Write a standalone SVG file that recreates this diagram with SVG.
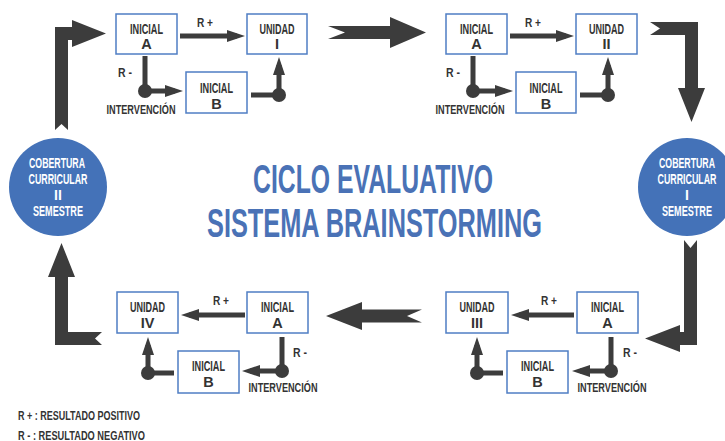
<svg xmlns="http://www.w3.org/2000/svg" width="725" height="441" viewBox="0 0 725 441">
<style>
.bx{fill:#fff;stroke:#4f7ec4;stroke-width:1.5}
.t{font-family:"Liberation Sans Narrow","Liberation Sans",Arial,sans-serif;font-weight:bold;fill:#333;text-anchor:middle}
.bt{font-size:14.5px}
.lb{font-size:12.5px}
.iv{font-size:13.5px}
.ct{font-family:"Liberation Sans Narrow","Liberation Sans",Arial,sans-serif;font-weight:bold;fill:#fff;text-anchor:middle;font-size:14px}
.ttl{font-family:"Liberation Sans Narrow","Liberation Sans",Arial,sans-serif;font-weight:bold;fill:#4a72b6;text-anchor:middle;font-size:40px}
.cn{fill:none;stroke:#3c3c3c;stroke-width:5;marker-end:url(#ah)}
.dot{fill:#3c3c3c}
.big{fill:#3c3c3c}
.circ{fill:#4472b8}
</style>
<defs>
<marker id="ah" markerUnits="userSpaceOnUse" markerWidth="18" markerHeight="12" refX="10" refY="6" orient="auto">
<path d="M0,0 L18,6 L0,12 z" fill="#3c3c3c"/>
</marker>
</defs>
<rect width="725" height="441" fill="#fff"/>

<!-- big cycle arrows -->
<g id="cycle-arrows">
<polygon class="big" points="55,130 55,27 72,27 72,20 106,33.5 72,47 72,40 68,40 68,130 61.5,124"/>
<polygon class="big" points="328,26 390,26 390,17 426,32.5 390,48 390,39 328,39 345,32.5"/>
<polygon class="big" points="650,22 698,22 698,88 705,88 691.5,122 678,88 685,88 685,35 650,35 660,28.5"/>
<polygon class="big" points="684,240 690.5,248 697,240 697,345 680,345 680,352 645,338.5 680,325 680,332 684,332"/>
<polygon class="big" points="326,316 362,302 362,309.5 422,309.5 407,316 422,322.5 362,322.5 362,330"/>
<polygon class="big" points="102,332 68,332 68,277 75,277 61.5,243 48,277 55,277 55,345 102,345 95,338.5"/>
</g>

<!-- connectors -->
<g id="connectors">
<path class="cn" d="M180,36 H237"/>
<path class="cn" d="M145,56 V91 H175"/>
<path class="cn" d="M251,95 H279 V65"/>
<path class="cn" d="M510,36 H566"/>
<path class="cn" d="M473,56 V91 H505"/>
<path class="cn" d="M580,95 H608 V65"/>
<path class="cn" d="M574,315 H519"/>
<path class="cn" d="M611,337 V371 H580"/>
<path class="cn" d="M503,373 H477 V345"/>
<path class="cn" d="M245,315 H189"/>
<path class="cn" d="M282,337 V371 H250"/>
<path class="cn" d="M174,373 H148 V345"/>
<circle class="dot" cx="145" cy="91" r="7"/>
<circle class="dot" cx="279" cy="95" r="7"/>
<circle class="dot" cx="473" cy="91" r="7"/>
<circle class="dot" cx="608" cy="95" r="7"/>
<circle class="dot" cx="611" cy="371" r="7"/>
<circle class="dot" cx="477" cy="373" r="7"/>
<circle class="dot" cx="282" cy="371" r="7"/>
<circle class="dot" cx="148" cy="373" r="7"/>
<text class="t lb" x="205" y="27" textLength="16" lengthAdjust="spacingAndGlyphs">R +</text>
<text class="t lb" x="125" y="77" textLength="14" lengthAdjust="spacingAndGlyphs">R -</text>
<text class="t iv" x="141" y="114" textLength="69" lengthAdjust="spacingAndGlyphs">INTERVENCIÓN</text>
<text class="t lb" x="533" y="27" textLength="16" lengthAdjust="spacingAndGlyphs">R +</text>
<text class="t lb" x="453" y="77" textLength="14" lengthAdjust="spacingAndGlyphs">R -</text>
<text class="t iv" x="470" y="114" textLength="69" lengthAdjust="spacingAndGlyphs">INTERVENCIÓN</text>
<text class="t lb" x="549" y="305" textLength="16" lengthAdjust="spacingAndGlyphs">R +</text>
<text class="t lb" x="630" y="357" textLength="14" lengthAdjust="spacingAndGlyphs">R -</text>
<text class="t iv" x="612" y="392" textLength="69" lengthAdjust="spacingAndGlyphs">INTERVENCIÓN</text>
<text class="t lb" x="221" y="305" textLength="16" lengthAdjust="spacingAndGlyphs">R +</text>
<text class="t lb" x="300" y="357" textLength="14" lengthAdjust="spacingAndGlyphs">R -</text>
<text class="t iv" x="283" y="392" textLength="69" lengthAdjust="spacingAndGlyphs">INTERVENCIÓN</text>
</g>

<!-- top-left block -->
<g id="tl-inicial-a"><rect class="bx" x="116" y="14" width="61" height="40"/>
<text class="t bt" x="146.5" y="33.5" textLength="33" lengthAdjust="spacingAndGlyphs">INICIAL</text><text class="t bt" x="146.5" y="49">A</text></g>
<g id="unidad-i"><rect class="bx" x="247" y="14" width="60" height="40"/>
<text class="t bt" x="277" y="33.5" textLength="35" lengthAdjust="spacingAndGlyphs">UNIDAD</text><text class="t bt" x="277" y="49">I</text></g>
<g id="tl-inicial-b"><rect class="bx" x="186" y="72" width="61" height="41"/>
<text class="t bt" x="216.5" y="93" textLength="33" lengthAdjust="spacingAndGlyphs">INICIAL</text><text class="t bt" x="216.5" y="108.5">B</text></g>

<!-- top-right block -->
<g id="tr-inicial-a"><rect class="bx" x="446" y="14" width="61" height="40"/>
<text class="t bt" x="476.5" y="33.5" textLength="33" lengthAdjust="spacingAndGlyphs">INICIAL</text><text class="t bt" x="476.5" y="49">A</text></g>
<g id="unidad-ii"><rect class="bx" x="576" y="14" width="61" height="40"/>
<text class="t bt" x="606.5" y="33.5" textLength="35" lengthAdjust="spacingAndGlyphs">UNIDAD</text><text class="t bt" x="606.5" y="49">II</text></g>
<g id="tr-inicial-b"><rect class="bx" x="516" y="72" width="60" height="41"/>
<text class="t bt" x="546" y="93" textLength="33" lengthAdjust="spacingAndGlyphs">INICIAL</text><text class="t bt" x="546" y="108.5">B</text></g>

<!-- bottom-right block -->
<g id="unidad-iii"><rect class="bx" x="446" y="292" width="62" height="41"/>
<text class="t bt" x="477" y="312" textLength="35" lengthAdjust="spacingAndGlyphs">UNIDAD</text><text class="t bt" x="477" y="327.5">III</text></g>
<g id="br-inicial-a"><rect class="bx" x="577" y="292" width="61" height="41"/>
<text class="t bt" x="607.5" y="312" textLength="33" lengthAdjust="spacingAndGlyphs">INICIAL</text><text class="t bt" x="607.5" y="327.5">A</text></g>
<g id="br-inicial-b"><rect class="bx" x="507" y="351" width="61" height="42"/>
<text class="t bt" x="537.5" y="371" textLength="33" lengthAdjust="spacingAndGlyphs">INICIAL</text><text class="t bt" x="537.5" y="386.5">B</text></g>

<!-- bottom-left block -->
<g id="unidad-iv"><rect class="bx" x="117" y="292" width="61" height="41"/>
<text class="t bt" x="147.5" y="312" textLength="35" lengthAdjust="spacingAndGlyphs">UNIDAD</text><text class="t bt" x="147.5" y="327.5">IV</text></g>
<g id="bl-inicial-a"><rect class="bx" x="247" y="292" width="61" height="41"/>
<text class="t bt" x="277.5" y="312" textLength="33" lengthAdjust="spacingAndGlyphs">INICIAL</text><text class="t bt" x="277.5" y="327.5">A</text></g>
<g id="bl-inicial-b"><rect class="bx" x="178" y="351" width="61" height="42"/>
<text class="t bt" x="208.5" y="371" textLength="33" lengthAdjust="spacingAndGlyphs">INICIAL</text><text class="t bt" x="208.5" y="386.5">B</text></g>

<!-- circles -->
<g id="cobertura-ii"><circle class="circ" cx="58" cy="187" r="49"/>
<text class="ct" x="57" y="168" textLength="56" lengthAdjust="spacingAndGlyphs">COBERTURA</text>
<text class="ct" x="58" y="184" textLength="59" lengthAdjust="spacingAndGlyphs">CURRICULAR</text>
<text class="ct" x="58" y="200">II</text>
<text class="ct" x="58" y="216" textLength="50" lengthAdjust="spacingAndGlyphs">SEMESTRE</text></g>
<g id="cobertura-i"><circle class="circ" cx="687" cy="187" r="49"/>
<text class="ct" x="687" y="168" textLength="56" lengthAdjust="spacingAndGlyphs">COBERTURA</text>
<text class="ct" x="687" y="184" textLength="59" lengthAdjust="spacingAndGlyphs">CURRICULAR</text>
<text class="ct" x="687" y="200">I</text>
<text class="ct" x="687" y="216" textLength="50" lengthAdjust="spacingAndGlyphs">SEMESTRE</text></g>

<!-- title -->
<g id="title">
<text class="ttl" x="373" y="193" textLength="240" lengthAdjust="spacingAndGlyphs">CICLO EVALUATIVO</text>
<text class="ttl" x="374.5" y="237" textLength="335" lengthAdjust="spacingAndGlyphs">SISTEMA BRAINSTORMING</text>
</g>

<!-- legend -->
<g id="legend">
<text class="t" style="text-anchor:start;font-size:13px" x="18" y="420" textLength="122" lengthAdjust="spacingAndGlyphs">R + : RESULTADO POSITIVO</text>
<text class="t" style="text-anchor:start;font-size:13px" x="18" y="439.5" textLength="127" lengthAdjust="spacingAndGlyphs">R - : RESULTADO NEGATIVO</text>
</g>
</svg>
